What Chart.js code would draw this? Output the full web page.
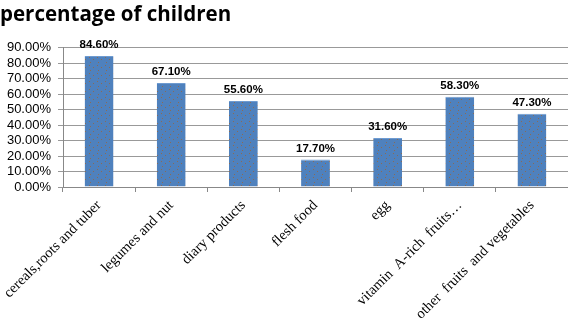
<!DOCTYPE html>
<html>
<head>
<meta charset="utf-8">
<script src="https://cdn.jsdelivr.net/npm/chart.js@4"></script>
<style>
    html, body { margin: 0; padding: 0; background: #ffffff; }
    #container { width: 568px; height: 322px; }
</style>
</head>
<body>
<div id="container"><canvas id="canvas"></canvas></div>
<script>
// 차트 데이터
const aLabel = [
    "cereals,roots and tuber",
    "legumes and nut",
    "diary products",
    "flesh food",
    "egg",
    "vitamin  A-rich  fruits…",
    "other  fruits  and vegetables"
];
const aPercent = [84.6, 67.1, 55.6, 17.7, 31.6, 58.3, 47.3];
const aYTick = [0, 10, 20, 30, 40, 50, 60, 70, 80, 90];
const sTitle = "percentage of children";

// 막대 무늬 (파란 바탕에 갈색 점)
function makePattern() {
    const c = document.createElement("canvas");
    c.width = 8;
    c.height = 8;
    const g = c.getContext("2d");
    g.fillStyle = "#4f81bd";
    g.fillRect(0, 0, 8, 8);
    g.fillStyle = "#8a6b55";
    g.fillRect(1, 1, 1, 1);
    g.fillRect(5, 3, 1, 1);
    g.fillRect(2, 6, 1, 1);
    return g.createPattern(c, "repeat");
}

// 값 라벨 플러그인
const valueLabel = {
    id: "valueLabel",
    afterDatasetsDraw: function (chart) {
        const ctx = chart.ctx;
        const meta = chart.getDatasetMeta(0);
        ctx.save();
        ctx.font = "bold 11.5px 'Liberation Sans', Arial, sans-serif";
        ctx.fillStyle = "#000000";
        ctx.textAlign = "center";
        ctx.textBaseline = "bottom";
        meta.data.forEach(function (bar, i) {
            ctx.fillText(aPercent[i].toFixed(2) + "%", bar.x, bar.y - 5);
        });
        ctx.restore();
    }
};

const ctx = document.getElementById("canvas").getContext("2d");
const oChart = new Chart(ctx, {
    type: "bar",
    data: {
        labels: aLabel,
        datasets: [{
            label: sTitle,
            data: aPercent,
            backgroundColor: makePattern(),
            borderColor: "#6f9bd0",
            borderWidth: { top: 1, left: 0, right: 0, bottom: 0 },
            categoryPercentage: 1,
            barPercentage: 0.4
        }]
    },
    plugins: [valueLabel],
    options: {
        responsive: true,
        maintainAspectRatio: false,
        animation: false,
        layout: { padding: { left: 0, right: 0, top: 0, bottom: 0 } },
        plugins: {
            legend: { display: false },
            tooltip: { enabled: false },
            title: {
                display: true,
                text: sTitle,
                align: "start",
                color: "#000000",
                font: { family: "'Open Sans', sans-serif", size: 20.5, weight: "bold" },
                padding: { top: 3, bottom: 20 }
            }
        },
        scales: {
            x: {
                grid: {
                    display: true,
                    drawOnChartArea: false,
                    drawTicks: true,
                    tickLength: 5,
                    color: "#888888"
                },
                border: { color: "#888888" },
                ticks: {
                    minRotation: 45,
                    maxRotation: 45,
                    autoSkip: false,
                    color: "#000000",
                    padding: 5,
                    font: { family: "'Liberation Serif', 'Times New Roman', serif", size: 14.5 }
                },
                afterFit: function (scale) {
                    scale.height = 135;
                    scale.paddingLeft = 0;
                    scale.paddingRight = 0;
                }
            },
            y: {
                min: 0,
                max: 90,
                afterBuildTicks: function (scale) {
                    scale.ticks = aYTick.map(function (v) { return { value: v }; });
                },
                grid: {
                    color: "#999999",
                    tickLength: 5
                },
                border: { color: "#888888" },
                ticks: {
                    autoSkip: false,
                    color: "#000000",
                    padding: 7,
                    font: { family: "'Liberation Sans', Arial, sans-serif", size: 13 },
                    callback: function (value) {
                        return value.toFixed(2) + "%";
                    }
                },
                afterFit: function (scale) {
                    scale.width = 63;
                }
            }
        }
    }
});
</script>
</body>
</html>
